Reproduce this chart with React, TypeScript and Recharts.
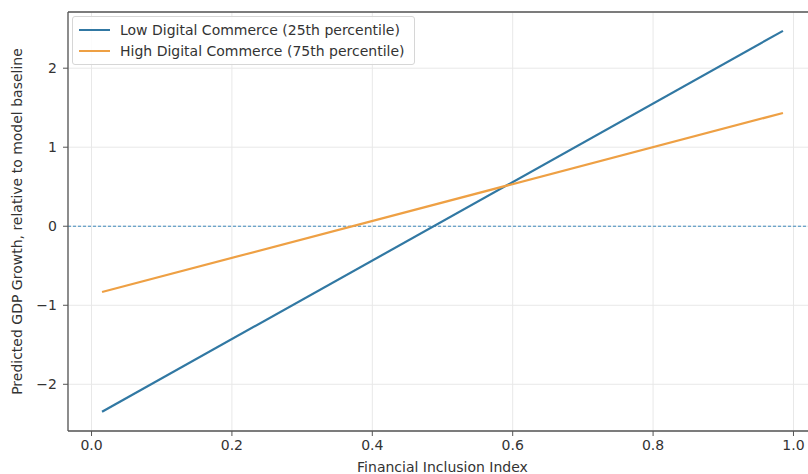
import React from 'react';
import { LineChart, Line, XAxis, YAxis, CartesianGrid, ReferenceLine, Legend, Label } from 'recharts';

const inclusionIndex = [0.015, 0.985];
const lowCommerce = [-2.347, 2.472];
const highCommerce = [-0.832, 1.433];
const xTicks = [0, 0.2, 0.4, 0.6, 0.8, 1.0];
const yTicks = [-2, -1, 0, 1, 2];
const seriesNames = ['Low Digital Commerce (25th percentile)', 'High Digital Commerce (75th percentile)'];

const data = inclusionIndex.map((x, i) => ({ x, low: lowCommerce[i], high: highCommerce[i] }));

const FONT = 'DejaVu Sans, sans-serif';
const FS = 14;
const BLUE = '#3178a3';
const ORANGE = '#eea044';

const fmtY = (v: number) => (v < 0 ? '\u2212' + Math.abs(v) : String(v));

const LegendBox = (props: any) => {
  const payload = [...(props.payload || [])].sort(
    (a: any, b: any) => seriesNames.indexOf(a.value) - seriesNames.indexOf(b.value)
  );
  return (
    <div
      style={{
        border: '1px solid #d6d6d6',
        borderRadius: 3,
        background: 'rgba(255,255,255,0.85)',
        padding: '2px 10px 3px 6px',
        fontFamily: FONT,
        fontSize: FS,
        color: '#333',
        whiteSpace: 'nowrap',
      }}
    >
      {payload.map((p: any) => (
        <div key={p.value} style={{ display: 'flex', alignItems: 'center', height: 21 }}>
          <span style={{ display: 'inline-block', width: 31, height: 2, background: p.color, marginRight: 10 }} />
          <span>{p.value}</span>
        </div>
      ))}
    </div>
  );
};

export default function App() {
  return (
    <div style={{ position: 'absolute', left: 0, top: 0, width: 808, height: 474, overflow: 'hidden', background: '#fff' }}>
      <LineChart width={830} height={474} data={data} margin={{ top: 12, right: 13, bottom: 0, left: 0 }}>
        <CartesianGrid stroke="#e8e8e8" strokeWidth={1} />
        <XAxis
          dataKey="x"
          type="number"
          domain={[-0.0335, 1.0335]}
          ticks={xTicks}
          tickFormatter={(v: number) => v.toFixed(1)}
          allowDataOverflow
          height={43}
          tick={{ fontFamily: FONT, fontSize: FS, fill: '#333' }}
          tickSize={5}
          tickMargin={4}
          stroke="#555"
          axisLine={{ stroke: '#555', strokeWidth: 1.3 }}
        >
          <Label
            value="Financial Inclusion Index"
            position="insideBottom"
            offset={2}
            style={{ fontFamily: FONT, fontSize: FS, fill: '#333' }}
          />
        </XAxis>
        <YAxis
          type="number"
          domain={[-2.591, 2.711]}
          ticks={yTicks}
          tickFormatter={fmtY}
          allowDataOverflow
          width={68}
          tick={{ fontFamily: FONT, fontSize: FS, fill: '#333' }}
          tickSize={5}
          tickMargin={6}
          stroke="#555"
          axisLine={{ stroke: '#555', strokeWidth: 1.3 }}
        >
          <Label
            content={(p: any) => {
              const vb = p.viewBox || { x: 0, y: 0, width: 0, height: 0 };
              const cx = vb.x + 17;
              const cy = vb.y + vb.height / 2;
              return (
                <text
                  x={cx}
                  y={cy}
                  transform={`rotate(-90, ${cx}, ${cy})`}
                  textAnchor="middle"
                  dominantBaseline="central"
                  style={{ fontFamily: FONT, fontSize: FS, fill: '#333' }}
                >
                  Predicted GDP Growth, relative to model baseline
                </text>
              );
            }}
          />
        </YAxis>
        <ReferenceLine y={2.711} stroke="#555" strokeWidth={1.3} />
        <ReferenceLine y={0} stroke="#3d8bbd" strokeWidth={1} strokeDasharray="3 2" />
        <Legend
          layout="vertical"
          align="center"
          verticalAlign="middle"
          content={<LegendBox />}
          wrapperStyle={{ position: 'absolute', left: 72, top: 16, width: 'auto', height: 'auto' }}
        />
        <Line
          type="linear"
          dataKey="low"
          name={seriesNames[0]}
          stroke={BLUE}
          strokeWidth={2.2}
          dot={false}
          isAnimationActive={false}
        />
        <Line
          type="linear"
          dataKey="high"
          name={seriesNames[1]}
          stroke={ORANGE}
          strokeWidth={2.2}
          dot={false}
          isAnimationActive={false}
        />
      </LineChart>
    </div>
  );
}
